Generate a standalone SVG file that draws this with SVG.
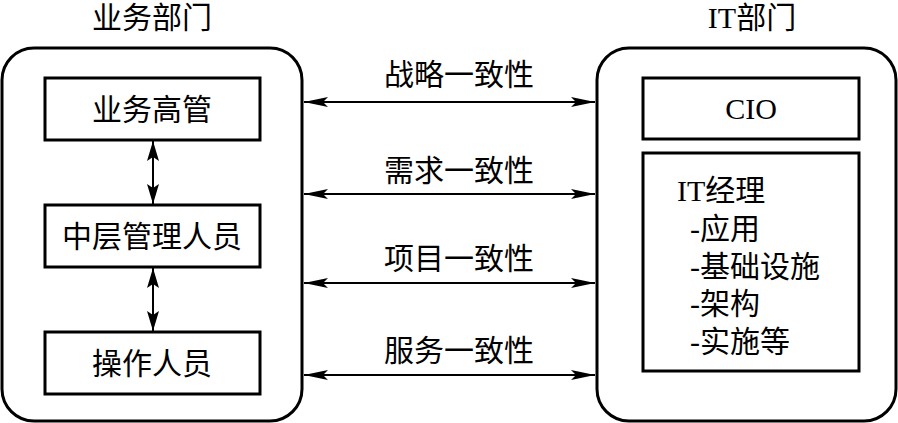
<svg xmlns="http://www.w3.org/2000/svg" width="898" height="423" viewBox="0 0 898 423">
<defs>
<style>
.cont{fill:none;stroke:#000;stroke-width:3}
.box{fill:#fff;stroke:#000;stroke-width:3}
.t{font-family:"Liberation Serif","Noto Sans CJK SC",serif;font-size:30px;fill:#000}
.c{text-anchor:middle}
.ln{stroke:#000;stroke-width:2;fill:none}
</style>
<marker id="ah" viewBox="0 0 24 10" refX="24" refY="5" markerWidth="24" markerHeight="10" markerUnits="userSpaceOnUse" orient="auto-start-reverse">
<path d="M0,0 L24,5 L0,10 L5,5 Z" fill="#000"/>
</marker>
<marker id="av" viewBox="0 0 20 12" refX="20" refY="6" markerWidth="20" markerHeight="12" markerUnits="userSpaceOnUse" orient="auto-start-reverse">
<path d="M0,0 L20,6 L0,12 L4,6 Z" fill="#000"/>
</marker>
</defs>
<rect width="898" height="423" fill="#fff"/>
<g id="business">
<text class="t c" x="152" y="28">业务部门</text>
<rect class="cont" x="2" y="48" width="300" height="373" rx="32"/>
</g>
<g id="it">
<text class="t c" x="752" y="28">IT部门</text>
<rect class="cont" x="597" y="48" width="299" height="373" rx="32"/>
</g>
<g id="exec">
<rect class="box" x="45" y="78" width="215" height="62"/>
<text class="t c" x="152" y="120">业务高管</text>
</g>
<g id="middle">
<rect class="box" x="45" y="205" width="215" height="62"/>
<text class="t c" x="152" y="247">中层管理人员</text>
</g>
<g id="ops">
<rect class="box" x="45" y="332" width="215" height="62"/>
<text class="t c" x="152" y="374">操作人员</text>
</g>
<g id="cio">
<rect class="box" x="643" y="78" width="216" height="61"/>
<text class="t c" x="751" y="119">CIO</text>
</g>
<g id="itmgr">
<rect class="box" x="643" y="153" width="216" height="218"/>
<text class="t" x="677" y="201">IT经理</text>
<text class="t" x="690" y="239">-应用</text>
<text class="t" x="690" y="277">-基础设施</text>
<text class="t" x="690" y="314">-架构</text>
<text class="t" x="690" y="352">-实施等</text>
</g>
<g id="connectors">
<line class="ln" x1="153" y1="141" x2="153" y2="204" marker-start="url(#av)" marker-end="url(#av)"/>
<line class="ln" x1="153" y1="268" x2="153" y2="331" marker-start="url(#av)" marker-end="url(#av)"/>
<line class="ln" x1="304" y1="102" x2="595" y2="102" marker-start="url(#ah)" marker-end="url(#ah)"/>
<line class="ln" x1="304" y1="194" x2="595" y2="194" marker-start="url(#ah)" marker-end="url(#ah)"/>
<line class="ln" x1="304" y1="283" x2="595" y2="283" marker-start="url(#ah)" marker-end="url(#ah)"/>
<line class="ln" x1="304" y1="375" x2="595" y2="375" marker-start="url(#ah)" marker-end="url(#ah)"/>
<text class="t c" x="459" y="85">战略一致性</text>
<text class="t c" x="459" y="181">需求一致性</text>
<text class="t c" x="459" y="269">项目一致性</text>
<text class="t c" x="459" y="361">服务一致性</text>
</g>
</svg>
